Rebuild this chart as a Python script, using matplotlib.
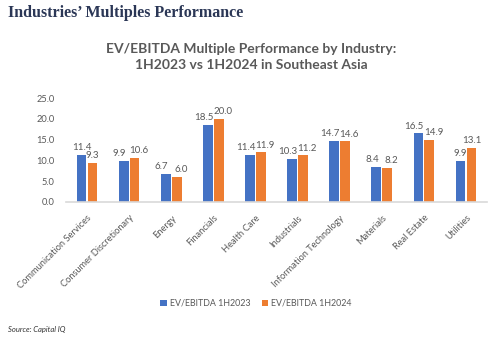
import numpy as np
import matplotlib
matplotlib.use("Agg")
import matplotlib.pyplot as plt

# --- Data ---
industries = ["Communication Services", "Consumer Discretionary", "Energy", "Financials",
              "Health Care", "Industrials", "Information Technology", "Materials",
              "Real Estate", "Utilities"]
ev_1h2023 = [11.4, 9.9, 6.7, 18.5, 11.4, 10.3, 14.7, 8.4, 16.5, 9.9]
ev_1h2024 = [9.3, 10.6, 6.0, 20.0, 11.9, 11.2, 14.6, 8.2, 14.9, 13.1]
series_names = ["EV/EBITDA 1H2023", "EV/EBITDA 1H2024"]
y_ticks = [0, 5, 10, 15, 20, 25]

color_blue = "#4472C4"
color_orange = "#ED7D31"
gray = "#595959"

plt.rcParams["font.family"] = ["Lato", "DejaVu Sans"]

fig = plt.figure(figsize=(5, 3.37), dpi=100)
fig.patch.set_facecolor("white")

# Header and source text
fig.text(0.016, 0.962, "Industries\u2019 Multiples Performance", family="Liberation Serif",
         fontweight="bold", fontsize=11.5, color="#2B3756", va="center", ha="left")
fig.text(0.016, 0.022, "Source: Capital IQ", fontsize=5.5, style="italic",
         color="#333333", va="center", ha="left")

# Chart title
fig.text(0.502, 0.83, "EV/EBITDA Multiple Performance by Industry:\n1H2023 vs 1H2024 in Southeast Asia",
         ha="center", va="center", fontsize=10, fontweight="bold", color=gray,
         linespacing=1.4)

ax = fig.add_axes([0.132, 0.4015, 0.842, 0.3068])
x = np.arange(len(industries))
w = 0.23
b1 = ax.bar(x - w / 2 - 0.015, ev_1h2023, w, color=color_blue, label=series_names[0])
b2 = ax.bar(x + w / 2 + 0.015, ev_1h2024, w, color=color_orange, label=series_names[1])

# data labels, nudged apart when the pair sits at similar height (like Excel does)
for i, (v1, v2) in enumerate(zip(ev_1h2023, ev_1h2024)):
    shift = 3.0 if abs(v1 - v2) < 1.6 else 0.0
    for bar, v, sgn in ((b1[i], v1, -1), (b2[i], v2, 1)):
        ax.annotate(f"{v:.1f}", (bar.get_x() + bar.get_width() / 2, v),
                    xytext=(sgn * shift, 2), textcoords="offset points",
                    ha="center", va="bottom", fontsize=7, color=gray)

ax.set_xlim(-0.5, len(industries) - 0.5)
ax.set_ylim(0, 25)
ax.set_yticks(y_ticks)
ax.set_yticklabels([f"{v:.1f}" for v in y_ticks])
ax.set_xticks(x)
ax.set_xticklabels(industries, rotation=45, ha="right", rotation_mode="anchor")
ax.tick_params(axis="both", length=0, labelsize=6.7, labelcolor=gray)
ax.tick_params(axis="y", pad=8)
ax.tick_params(axis="x", pad=8.5)

for side in ["top", "right", "left"]:
    ax.spines[side].set_visible(False)
ax.spines["bottom"].set_color("#D9D9D9")
ax.spines["bottom"].set_linewidth(1.2)

fig.legend(handles=[b1, b2], labels=series_names, loc="center", bbox_to_anchor=(0.512, 0.1),
           ncol=2, frameon=False, fontsize=6.4, handlelength=0.7, handleheight=0.7,
           handletextpad=0.35, columnspacing=1.3, labelcolor=gray)

fig.savefig("out.png", dpi=100)
